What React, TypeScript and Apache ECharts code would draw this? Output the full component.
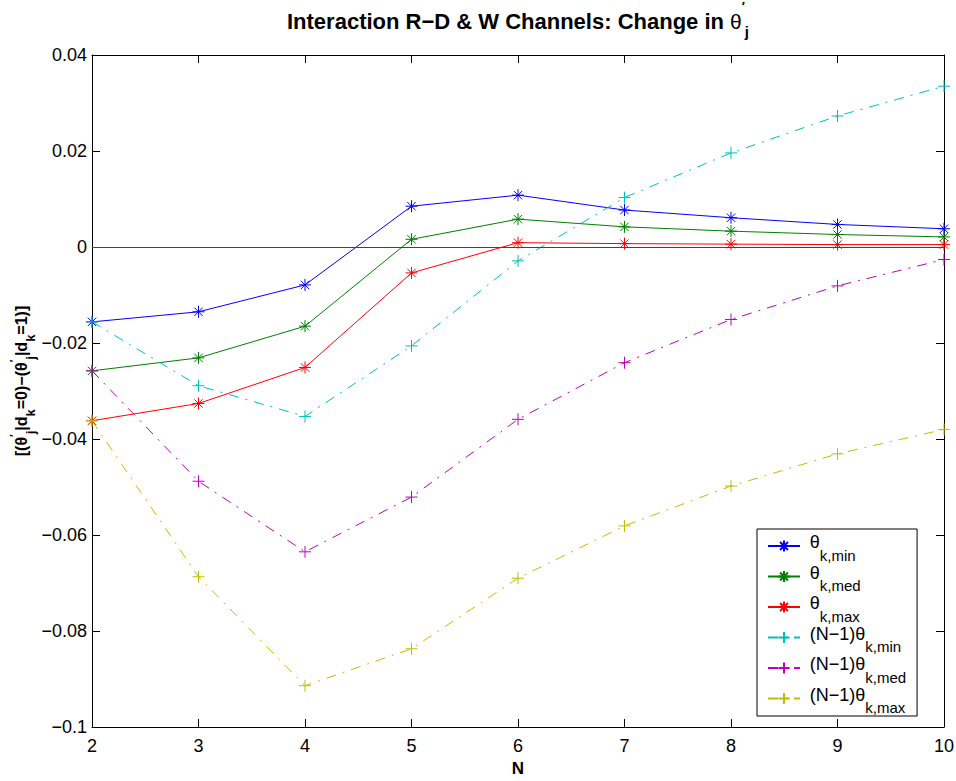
import React, { useEffect, useRef } from 'react';
import * as echarts from 'echarts';

const N = [2, 3, 4, 5, 6, 7, 8, 9, 10];
const thetaMin = [-0.0156, -0.0135, -0.0079, 0.0085, 0.0108, 0.0077, 0.0061, 0.0047, 0.0038];
const thetaMed = [-0.0258, -0.0231, -0.0165, 0.0016, 0.0058, 0.0042, 0.0033, 0.0026, 0.0021];
const thetaMax = [-0.0362, -0.0326, -0.0251, -0.0054, 0.0009, 0.0007, 0.0006, 0.0005, 0.0005];
const nThetaMin = [-0.0156, -0.0289, -0.0353, -0.0206, -0.0029, 0.0103, 0.0196, 0.0273, 0.0335];
const nThetaMed = [-0.0258, -0.0488, -0.0635, -0.0521, -0.0359, -0.0241, -0.0151, -0.0081, -0.0026];
const nThetaMax = [-0.0362, -0.0687, -0.0914, -0.0837, -0.069, -0.0581, -0.0498, -0.0431, -0.038];

const seriesNames = ['θk,min', 'θk,med', 'θk,max', '(N−1)θk,min', '(N−1)θk,med', '(N−1)θk,max'];
const legendMain = ['θ', 'θ', 'θ', '(N−1)θ', '(N−1)θ', '(N−1)θ'];
const legendSub = ['k,min', 'k,med', 'k,max', 'k,min', 'k,med', 'k,max'];
const colors = ['#0000ff', '#008000', '#ff0000', '#00bfbf', '#bf00bf', '#bfbf00'];

const FONT = "'Liberation Sans', Arial, Helvetica, sans-serif";
const STAR = 'path://M5 0 L5 10 M0 5 L10 5 M1.5 1.5 L8.5 8.5 M1.5 8.5 L8.5 1.5';
const PLUS = 'path://M5 0 L5 10 M0 5 L10 5';

export default function App() {
  const ref = useRef<HTMLDivElement>(null);
  useEffect(() => {
    const chart = echarts.init(ref.current!, null, { renderer: 'svg' });
    const allVals = [thetaMin, thetaMed, thetaMax, nThetaMin, nThetaMed, nThetaMax];
    const series: any[] = allVals.map((vals, i) => {
      const solid = i < 3;
      const s: any = {
        name: seriesNames[i],
        type: 'line',
        data: N.map((n, j) => [n, vals[j]]),
        symbol: solid ? STAR : PLUS,
        symbolSize: 12,
        lineStyle: { color: colors[i], width: 1, type: solid ? 'solid' : [10, 7, 2, 7] },
        itemStyle: { color: 'none', borderColor: colors[i], borderWidth: 1 },
        emphasis: { disabled: true },
        xAxisIndex: 0,
        yAxisIndex: 0,
      };
      if (i === 0) {
        s.markLine = {
          silent: true,
          symbol: 'none',
          label: { show: false },
          lineStyle: { color: '#444', width: 1, type: 'solid' },
          data: [{ yAxis: 0 }],
        };
      }
      return s;
    });

    const axisCommon = {
      axisLine: { onZero: false, lineStyle: { color: '#000', width: 1 } },
      axisTick: { inside: true, length: 8, lineStyle: { color: '#000', width: 1 } },
      splitLine: { show: false },
    };
    const fmtY = (v: number) => {
      const r = Math.round(v * 1000) / 1000;
      return (r < 0 ? '−' : '') + String(Math.abs(r));
    };

    const option: any = {
      animation: false,
      backgroundColor: '#fff',
      textStyle: { fontFamily: FONT },
      title: {
        text: '{m|Interaction R−D & W Channels: Change in }{t|θ}{p|′}{b|j}',
        left: 518,
        top: 5,
        textAlign: 'center',
        padding: 0,
        textStyle: {
          rich: {
            m: { fontFamily: FONT, fontSize: 22, fontWeight: 'bold', color: '#000', height: 32, lineHeight: 32, verticalAlign: 'top' },
            t: { fontFamily: FONT, fontSize: 21, fontWeight: 'normal', color: '#000', height: 32, lineHeight: 32, verticalAlign: 'top' },
            p: { fontFamily: FONT, fontSize: 13, color: '#000', height: 2, lineHeight: 2, verticalAlign: 'top' },
            b: { fontFamily: FONT, fontSize: 15, fontWeight: 'bold', color: '#000', height: 52, lineHeight: 52, verticalAlign: 'top' },
          },
        },
      },
      grid: { left: 92, right: 12, top: 55, bottom: 54, containLabel: false, outerBoundsMode: 'none' },
      legend: {
        data: seriesNames,
        orient: 'vertical',
        left: 757,
        top: 529,
        padding: [3, 11, 1, 10],
        itemGap: 0,
        itemWidth: 32,
        itemHeight: 14,
        backgroundColor: '#fff',
        borderColor: '#000',
        borderWidth: 1,
        borderRadius: 0,
        selectedMode: false,
        formatter: (name: string) => {
          const i = seriesNames.indexOf(name);
          return '{z| }{t|' + legendMain[i] + '}{s|' + legendSub[i] + '}';
        },
        textStyle: {
          rich: {
            z: { fontFamily: FONT, fontSize: 17, color: '#000', height: 28, lineHeight: 28 },
            t: { fontFamily: FONT, fontSize: 18, color: '#000', height: 20, lineHeight: 20, verticalAlign: 'top' },
            s: { fontFamily: FONT, fontSize: 15, color: '#000', height: 10, lineHeight: 10, verticalAlign: 'bottom' },
          },
        },
      },
      xAxis: [
        {
          type: 'value',
          position: 'bottom',
          min: 2,
          max: 10,
          interval: 1,
          name: 'N',
          nameLocation: 'middle',
          nameGap: 33,
          nameMoveOverlap: false,
          nameTextStyle: { fontFamily: FONT, fontSize: 17, fontWeight: 'bold', color: '#000' },
          axisLabel: { fontFamily: FONT, fontSize: 18, color: '#000', margin: 10 },
          ...axisCommon,
        },
        {
          type: 'value',
          position: 'top',
          min: 2,
          max: 10,
          interval: 1,
          axisLabel: { show: false },
          ...axisCommon,
        },
      ],
      yAxis: [
        {
          type: 'value',
          position: 'left',
          min: -0.1,
          max: 0.04,
          interval: 0.02,
          name: '{m|[(θ}{p|′}{b|j}{m||d}{b|k}{m|=0)−(θ}{p|′}{b|j}{m||d}{b|k}{m|=1)]}',
          nameLocation: 'middle',
          nameRotate: 90,
          nameGap: 43,
          nameMoveOverlap: false,
          nameTextStyle: {
            padding: [0, 0, 0, 20],
            rich: {
              m: { fontFamily: FONT, fontSize: 16, fontWeight: 'bold', color: '#000', height: 20, lineHeight: 20, verticalAlign: 'top' },
              p: { fontFamily: FONT, fontSize: 11, fontWeight: 'bold', color: '#000', height: 6, lineHeight: 6, verticalAlign: 'top' },
              b: { fontFamily: FONT, fontSize: 13, fontWeight: 'bold', color: '#000', height: 38, lineHeight: 38, verticalAlign: 'top' },
            },
          },
          axisLabel: { fontFamily: FONT, fontSize: 18, color: '#000', margin: 5, formatter: fmtY },
          ...axisCommon,
        },
        {
          type: 'value',
          position: 'right',
          min: -0.1,
          max: 0.04,
          interval: 0.02,
          axisLabel: { show: false },
          ...axisCommon,
        },
      ],
      series,
    };
    chart.setOption(option);
    return () => chart.dispose();
  }, []);
  return <div ref={ref} style={{ position: 'absolute', left: 0, top: 0, width: 956, height: 781 }} />;
}
